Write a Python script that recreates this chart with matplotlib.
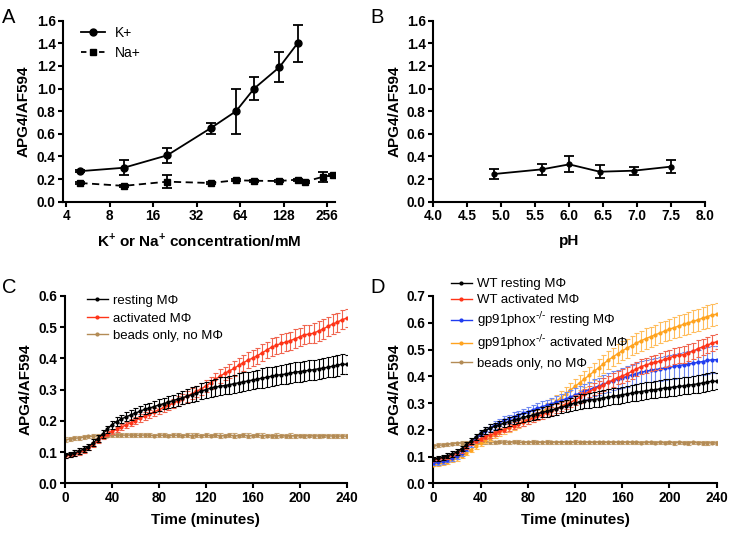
import matplotlib
matplotlib.use('Agg')
import matplotlib.pyplot as plt
import matplotlib.ticker as ticker
from matplotlib.lines import Line2D

plt.rcParams['font.family'] = ['Liberation Sans', 'DejaVu Sans']
plt.rcParams['axes.linewidth'] = 1.5

# Panel A: K+ / Na+ concentration
conc_k = [5, 10, 20, 40, 60, 80, 120, 160]
ratio_k = [0.27, 0.30, 0.41, 0.65, 0.80, 1.00, 1.19, 1.40]
err_k = [0.01, 0.065, 0.065, 0.05, 0.20, 0.10, 0.13, 0.165]
conc_na = [5, 10, 20, 40, 60, 80, 120, 160, 180, 240, 280]
ratio_na = [0.165, 0.14, 0.177, 0.165, 0.19, 0.185, 0.183, 0.195, 0.177, 0.22, 0.235]
err_na = [0.01, 0.01, 0.055, 0.01, 0.01, 0.01, 0.01, 0.01, 0.01, 0.045, 0.01]
conc_ticks = [4, 8, 16, 32, 64, 128, 256]

# Panel B: pH
ph = [4.9, 5.6, 6.0, 6.45, 6.95, 7.5]
ratio_ph = [0.245, 0.286, 0.33, 0.265, 0.274, 0.31]
err_ph = [0.04, 0.05, 0.07, 0.055, 0.036, 0.06]

# Panels C/D: time course, every 4 minutes
time_min = list(range(0, 241, 4))
wt_rest = [0.090, 0.093, 0.097, 0.103, 0.110, 0.117, 0.130, 0.143, 0.158, 0.173, 0.188,
           0.198, 0.206, 0.213, 0.219, 0.225, 0.231, 0.237, 0.241, 0.246, 0.251,
           0.255, 0.260, 0.265, 0.269, 0.274, 0.279, 0.284, 0.289, 0.295, 0.300,
           0.305, 0.308, 0.311, 0.313, 0.316, 0.319, 0.322, 0.325, 0.328, 0.331,
           0.334, 0.337, 0.340, 0.343, 0.346, 0.348, 0.350, 0.353, 0.356, 0.358,
           0.360, 0.362, 0.364, 0.367, 0.369, 0.372, 0.375, 0.378, 0.382, 0.381]
wt_rest_err = [0.008, 0.008, 0.009, 0.009, 0.010, 0.010, 0.011, 0.011, 0.012, 0.012, 0.013,
               0.013, 0.014, 0.014, 0.015, 0.015, 0.016, 0.016, 0.017, 0.017, 0.018,
               0.018, 0.019, 0.019, 0.020, 0.021, 0.022, 0.023, 0.024, 0.025, 0.026,
               0.027, 0.027, 0.028, 0.028, 0.029, 0.029, 0.030, 0.030, 0.030, 0.030,
               0.030, 0.031, 0.031, 0.031, 0.031, 0.031, 0.031, 0.032, 0.032, 0.032,
               0.032, 0.032, 0.032, 0.032, 0.033, 0.033, 0.033, 0.033, 0.033, 0.030]
wt_act = [0.088, 0.090, 0.094, 0.099, 0.105, 0.113, 0.123, 0.137, 0.150, 0.159, 0.166,
          0.173, 0.180, 0.187, 0.194, 0.201, 0.209, 0.216, 0.223, 0.229, 0.236,
          0.243, 0.250, 0.256, 0.264, 0.271, 0.279, 0.287, 0.295, 0.302, 0.312,
          0.322, 0.333, 0.343, 0.352, 0.360, 0.368, 0.378, 0.386, 0.395, 0.401,
          0.409, 0.418, 0.427, 0.436, 0.442, 0.448, 0.452, 0.457, 0.463, 0.469,
          0.476, 0.478, 0.481, 0.488, 0.494, 0.503, 0.510, 0.516, 0.524, 0.529]
wt_act_err = [0.006, 0.006, 0.006, 0.007, 0.007, 0.007, 0.008, 0.008, 0.008, 0.009, 0.009,
              0.009, 0.010, 0.010, 0.011, 0.011, 0.012, 0.012, 0.013, 0.013, 0.014,
              0.014, 0.015, 0.015, 0.016, 0.016, 0.017, 0.017, 0.018, 0.018, 0.019,
              0.020, 0.021, 0.022, 0.022, 0.023, 0.024, 0.024, 0.025, 0.025, 0.026,
              0.026, 0.027, 0.027, 0.028, 0.028, 0.029, 0.029, 0.029, 0.030, 0.030,
              0.030, 0.030, 0.031, 0.031, 0.031, 0.031, 0.031, 0.030, 0.030, 0.028]
ko_rest = [0.075, 0.078, 0.082, 0.087, 0.093, 0.101, 0.113, 0.130, 0.148, 0.166, 0.182,
           0.196, 0.207, 0.218, 0.227, 0.235, 0.242, 0.249, 0.256, 0.262, 0.268,
           0.274, 0.280, 0.286, 0.292, 0.297, 0.303, 0.309, 0.315, 0.322, 0.330,
           0.337, 0.344, 0.350, 0.357, 0.363, 0.370, 0.377, 0.383, 0.389, 0.394,
           0.399, 0.405, 0.410, 0.415, 0.419, 0.422, 0.425, 0.428, 0.431, 0.434,
           0.437, 0.440, 0.443, 0.446, 0.449, 0.452, 0.455, 0.459, 0.462, 0.462]
ko_rest_err = [0.008, 0.008, 0.008, 0.009, 0.009, 0.010, 0.010, 0.011, 0.011, 0.012, 0.012,
               0.013, 0.013, 0.014, 0.014, 0.015, 0.015, 0.016, 0.016, 0.017, 0.017,
               0.018, 0.019, 0.020, 0.021, 0.022, 0.023, 0.024, 0.025, 0.026, 0.027,
               0.028, 0.029, 0.030, 0.031, 0.032, 0.033, 0.034, 0.035, 0.036, 0.037,
               0.038, 0.039, 0.040, 0.041, 0.042, 0.042, 0.043, 0.044, 0.045, 0.045,
               0.046, 0.046, 0.047, 0.047, 0.048, 0.048, 0.049, 0.049, 0.050, 0.050]
ko_act = [0.070, 0.072, 0.075, 0.080, 0.086, 0.093, 0.102, 0.113, 0.126, 0.139, 0.151,
          0.161, 0.171, 0.181, 0.191, 0.199, 0.207, 0.215, 0.223, 0.231, 0.238,
          0.246, 0.256, 0.267, 0.279, 0.292, 0.306, 0.320, 0.334, 0.348, 0.362,
          0.376, 0.390, 0.404, 0.418, 0.432, 0.446, 0.460, 0.472, 0.484, 0.495,
          0.505, 0.515, 0.524, 0.533, 0.541, 0.548, 0.555, 0.562, 0.569, 0.576,
          0.582, 0.588, 0.594, 0.600, 0.605, 0.611, 0.617, 0.623, 0.629, 0.632]
ko_act_err = [0.007, 0.007, 0.007, 0.008, 0.008, 0.008, 0.009, 0.009, 0.010, 0.010, 0.011,
              0.011, 0.012, 0.012, 0.013, 0.013, 0.014, 0.014, 0.015, 0.016, 0.017,
              0.018, 0.019, 0.020, 0.021, 0.022, 0.023, 0.024, 0.025, 0.026, 0.027,
              0.028, 0.029, 0.030, 0.031, 0.032, 0.033, 0.034, 0.034, 0.035, 0.035,
              0.036, 0.036, 0.037, 0.037, 0.038, 0.038, 0.038, 0.039, 0.039, 0.039,
              0.040, 0.040, 0.040, 0.041, 0.041, 0.041, 0.042, 0.042, 0.042, 0.042]
beads = [0.140, 0.142, 0.144, 0.146, 0.148, 0.150, 0.151, 0.152, 0.153, 0.153, 0.154,
         0.154, 0.155, 0.154, 0.155, 0.154, 0.154, 0.155, 0.154, 0.153, 0.154,
         0.154, 0.153, 0.154, 0.154, 0.153, 0.154, 0.153, 0.154, 0.153, 0.154,
         0.153, 0.154, 0.153, 0.153, 0.154, 0.153, 0.153, 0.154, 0.153, 0.153,
         0.154, 0.153, 0.153, 0.152, 0.153, 0.153, 0.152, 0.153, 0.152, 0.153,
         0.152, 0.153, 0.152, 0.152, 0.153, 0.152, 0.152, 0.151, 0.152, 0.151]
beads_err = [0.007, 0.007, 0.006, 0.006, 0.006, 0.006, 0.006, 0.006, 0.006, 0.006, 0.006,
             0.006, 0.007, 0.006, 0.006, 0.007, 0.006, 0.006, 0.007, 0.006, 0.006,
             0.007, 0.006, 0.006, 0.007, 0.006, 0.006, 0.007, 0.006, 0.006, 0.007,
             0.006, 0.006, 0.007, 0.006, 0.006, 0.007, 0.006, 0.006, 0.007, 0.006,
             0.006, 0.007, 0.006, 0.006, 0.007, 0.006, 0.006, 0.007, 0.006, 0.006,
             0.007, 0.006, 0.006, 0.007, 0.006, 0.006, 0.007, 0.006, 0.006, 0.007]

BLACK = '#000000'
RED = '#ff3418'
RED_ERR = '#f0644e'
BLUE = '#1f3cf0'
BLUE_ERR = '#6f88f0'
ORANGE = '#ffa31f'
ORANGE_ERR = '#ffbd5c'
TAN = '#b38b55'
TAN_ERR = '#c8a678'

TICK_FS = 9.8
LABEL_FS = 11
LEG_FS = 9.5


def style_axis(ax):
    for side in ('top', 'right'):
        ax.spines[side].set_visible(False)
    ax.tick_params(direction='out', length=3.5, width=1.5, labelsize=TICK_FS, pad=2)
    for lab in ax.get_xticklabels() + ax.get_yticklabels():
        lab.set_fontweight('bold')


fig = plt.figure(figsize=(7.3, 5.34), dpi=100)

# ---- A ----
ax_a = fig.add_axes([0.0867, 0.6223, 0.3722, 0.3389])
ax_a.errorbar(conc_k, ratio_k, yerr=err_k, color=BLACK, marker='o', markersize=5,
              linewidth=1.3, elinewidth=1.3, capsize=3.5, capthick=1.3)
ax_a.errorbar(conc_na, ratio_na, yerr=err_na, color=BLACK, marker='s', markersize=5,
              linewidth=1.3, linestyle=(0, (4, 2.5)), elinewidth=1.3, capsize=3.5, capthick=1.3)
ax_a.set_xscale('log', base=2)
ax_a.set_xlim(3.81, 291)
ax_a.set_ylim(0, 1.6)
ax_a.set_xticks(conc_ticks)
ax_a.xaxis.set_major_formatter(ticker.FuncFormatter(lambda v, p: format(int(round(v)))))
ax_a.xaxis.set_minor_locator(ticker.NullLocator())
ax_a.yaxis.set_major_locator(ticker.MultipleLocator(0.2))
ax_a.yaxis.set_major_formatter(ticker.FormatStrFormatter('%.1f'))
style_axis(ax_a)
ax_a.set_ylabel('APG4/AF594', fontsize=LABEL_FS, fontweight='bold', labelpad=4)
ax_a.set_xlabel(r'K$^{\mathregular{+}}$ or Na$^{\mathregular{+}}$ concentration/mM',
                fontsize=LABEL_FS, fontweight='bold', labelpad=5.5)
leg_a = [Line2D([], [], color=BLACK, marker='o', markersize=5, linewidth=1.3),
         Line2D([], [], color=BLACK, marker='s', markersize=5, linewidth=1.3, linestyle=(0, (3, 2)))]
ax_a.legend(leg_a, ['K+', 'Na+'], loc='upper left', bbox_to_anchor=(0.02, 1.04), frameon=False,
            fontsize=LEG_FS + 0.5, handlelength=1.7, handletextpad=0.7, labelspacing=0.45)

# ---- B ----
ax_b = fig.add_axes([0.5936, 0.6223, 0.3722, 0.3389])
ax_b.errorbar(ph, ratio_ph, yerr=err_ph, color=BLACK, marker='o', markersize=3.5,
              linewidth=1.3, elinewidth=1.3, capsize=3.5, capthick=1.3)
ax_b.set_xlim(4.0, 8.0)
ax_b.set_ylim(0, 1.6)
ax_b.xaxis.set_major_locator(ticker.MultipleLocator(0.5))
ax_b.xaxis.set_major_formatter(ticker.FormatStrFormatter('%.1f'))
ax_b.yaxis.set_major_locator(ticker.MultipleLocator(0.2))
ax_b.yaxis.set_major_formatter(ticker.FormatStrFormatter('%.1f'))
style_axis(ax_b)
ax_b.set_ylabel('APG4/AF594', fontsize=LABEL_FS, fontweight='bold', labelpad=4)
ax_b.set_xlabel('pH', fontsize=LABEL_FS, fontweight='bold', labelpad=8)


def time_series(ax, y, err, color, ecolor, z):
    ax.errorbar(time_min, y, yerr=err, color=color, ecolor=ecolor, marker='o', markersize=2,
                linewidth=1.0, elinewidth=0.8, capsize=1.8, capthick=0.8, zorder=z)


def time_axis(ax, ymax):
    ax.set_xlim(0, 240)
    ax.set_ylim(0, ymax)
    ax.xaxis.set_major_locator(ticker.MultipleLocator(40))
    ax.yaxis.set_major_locator(ticker.MultipleLocator(0.1))
    ax.yaxis.set_major_formatter(ticker.FormatStrFormatter('%.1f'))
    style_axis(ax)
    ax.set_ylabel('APG4/AF594', fontsize=LABEL_FS, fontweight='bold', labelpad=4)
    ax.set_xlabel('Time (minutes)', fontsize=LABEL_FS, fontweight='bold', labelpad=6)


def leg_handle(color):
    return Line2D([], [], color=color, marker='o', markersize=2, linewidth=1.0)


# ---- C ----
ax_c = fig.add_axes([0.0890, 0.0949, 0.3859, 0.3508])
time_series(ax_c, beads, beads_err, TAN, TAN_ERR, 2)
time_series(ax_c, wt_act, wt_act_err, RED, RED_ERR, 3)
time_series(ax_c, wt_rest, wt_rest_err, BLACK, BLACK, 4)
time_axis(ax_c, 0.6)
ax_c.legend([leg_handle(BLACK), leg_handle(RED), leg_handle(TAN)],
            ['resting M\u03a6', 'activated M\u03a6', 'beads only, no M\u03a6'],
            loc='upper left', bbox_to_anchor=(0.035, 1.07), frameon=False, fontsize=LEG_FS,
            handlelength=1.6, handletextpad=0.4, labelspacing=0.4)

# ---- D ----
ax_d = fig.add_axes([0.5936, 0.0949, 0.3882, 0.3508])
time_series(ax_d, beads, beads_err, TAN, TAN_ERR, 2)
time_series(ax_d, ko_act, ko_act_err, ORANGE, ORANGE_ERR, 3)
time_series(ax_d, ko_rest, ko_rest_err, BLUE, BLUE_ERR, 4)
time_series(ax_d, wt_act, wt_act_err, RED, RED_ERR, 5)
time_series(ax_d, wt_rest, wt_rest_err, BLACK, BLACK, 6)
time_axis(ax_d, 0.7)
ax_d.legend([leg_handle(BLACK), leg_handle(RED), leg_handle(BLUE), leg_handle(ORANGE), leg_handle(TAN)],
            ['WT resting M\u03a6', 'WT activated M\u03a6',
             r'gp91phox$^{\text{-/-}}$ resting M$\mathregular{\Phi}$',
             r'gp91phox$^{\text{-/-}}$ activated M$\mathregular{\Phi}$',
             'beads only, no M\u03a6'],
            loc='upper left', bbox_to_anchor=(0.02, 1.16), frameon=False, fontsize=LEG_FS,
            handlelength=1.6, handletextpad=0.4, labelspacing=0.3)

# panel letters
for letter, x, y in [('A', 0.003, 0.985), ('B', 0.508, 0.985), ('C', 0.003, 0.48), ('D', 0.508, 0.48)]:
    fig.text(x, y, letter, fontsize=14.5, va='top', ha='left')

fig.savefig('out.png', dpi=100)
